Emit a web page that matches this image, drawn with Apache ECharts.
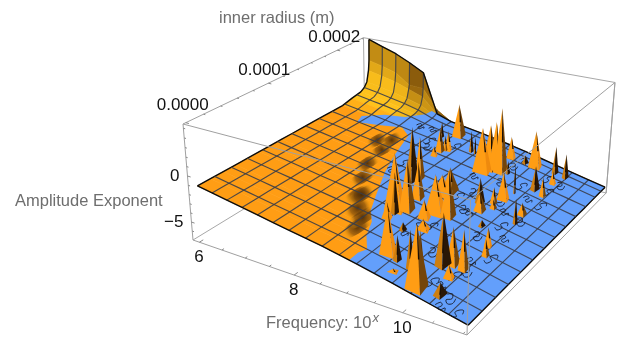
<!DOCTYPE html>
<html><head><meta charset="utf-8"><style>html,body{margin:0;background:#fff}#c{width:627px;height:352px}</style>
<script src="https://cdn.jsdelivr.net/npm/echarts@6/dist/echarts.min.js"></script></head><body><div id="c"></div><script>
// ---- data ----
const frequencies=[6,6.315,6.63,6.945,7.26,7.575,7.89,8.205,8.52,8.835,9.15,9.465,9.78,10.095,10.41,10.725,11.04];
const radii=[0,.151,.303,.454,.605,.756,.908,1.059,1.21,1.361,1.513,1.664,1.815,1.966,2.118,2.269,2.33,2.375,2.405,2.416,2.42]; // 1e-4 m
const meshRadii=[.2,.4,.6,.8,1,1.2,1.4,1.6,1.8,2,2.2,2.33];
const baseAmplitude=[-1,-1.28,-1.56,-1.84,-2.13,-2.41,-2.69,-2.97,-3.25,-3.58,-3.91,-4.29,-4.68,-5.09,-5.49,-5.89,-6.3];
const ridgeRows=[14,15,16,17,18,19,20];
const ridgeLift=[
 [.25,.25,.25,.22,.15,.05,0],
 [.45,.45,.45,.4,.3,.1,0],
 [.75,.75,.7,.65,.5,.15,0],
 [1.3,1.3,1.2,1.1,.9,.25,0],
 [2.6,2.5,2.4,2.1,1.8,.4,0],
 [3.8,3.7,3.5,2.6,2.8,.8,0],
 [6.4,6.1,5.8,5.3,4.7,.3,0]];
const ridgeTone=[
 [0,0,.02,.08,.2,.3],
 [.02,.02,.05,.12,.3,.45],
 [.04,.04,.08,.25,.3,.55],
 [.05,.05,.12,.4,.35,.6],
 [.2,.2,.3,.7,.45,.75],
 [.42,.36,.45,.8,.7,.85]];
const blueEdgeFreq=[9.02,9.01,9.06,8.85,8.70,8.50,8.32,8.00,7.80,7.59,7.34,6.95,6.59,6.52,6.84,7.18,7.42,7.49];
const blueEdgeRadius=[0,.12,.20,.34,.52,.65,.85,1.22,1.52,1.90,1.99,1.88,1.79,1.92,2.07,2.16,2.33,2.39];
const blotchFreq=[7.27,7.53,7.61,7.82,8.08,8.31,7.46,8.13,8.61,8.52];
const blotchRadius=[1.64,1.52,1.24,1.02,.77,.61,1.73,.79,.39,.53];
const spikeFreq=[8.07,8.28,8.42,8.38,8.75,8.32,8.84,8.33,9.38,9.65,9.83,9.27,9.35,9.46,9.21,10.19,9.59,10.39,8.55,8.50,10.31,10.17,9.97,9.14,10.35,9.09,8.86,9.91,9.68,9.85,9.92,8.76,8.92,9.79,8.83,9.29,10.35,8.81,9.24,9.50,10.39,10.03,9.18,9.40,10.36,9.34,10.45,9.54,10.19,10.09,9.78,10.37,9.63,10.31,10.09,10.08,10.42];
const spikeRadius=[2.10,2.23,1.92,1.90,2.05,1.86,2.04,1.75,2.22,2.24,2.25,1.92,1.95,1.94,1.83,2.29,1.96,2.29,1.34,1.26,2.11,1.91,1.72,1.35,1.87,1.26,1.07,1.57,1.38,1.46,1.39,.80,.86,1.28,.75,.99,1.49,.65,.86,1.02,1.33,1.10,.60,.72,.90,.27,.78,.25,.51,.45,.24,.51,.12,.35,.13,.09,.14];
const spikeTop=[-1.2,.6,-1,-1.5,-1.2,-.6,-1.7,-2.1,-1.8,-3.7,-.7,.8,1.1,2.8,.8,-2.2,-3.1,-2.8,1.2,2.6,-4,-2.6,-1.7,-1.4,-3.4,-1.8,.2,-1.9,-1.9,-3.1,-4,2.4,1.6,-2.8,.7,-.1,-4.2,-2,-2.2,.6,-2.9,-4.4,-3.2,-3.2,-3.5,.5,-3.9,-1.9,-1.5,.1,-.9,-1.5,-4.3,-4.1,.2,1.1,-4.3];
const spikeWidth=[2,6,3,2,2,4,1,3,4,3,6,7,6,6,8,3,2,3,4,5,3,4,1,7,3,7,5,5,4,3,3,8,6,5,3,8,4,4,5,6,2,3,3,5,3,6,3,3,5,6,3,4,4,4,4,8,5];
const spikeTone=[2,1,0,1,2,1,2,0,0,2,0,1,0,1,0,2,2,2,1,2,0,2,2,1,1,0,1,0,2,1,1,0,1,1,2,0,1,0,0,1,2,2,2,0,0,0,1,2,1,2,2,1,0,0,1,1,2];
const curlFreq=[9.22,9.44,9.82,10.32,10.17,10.57,10.55,10.79,10.44,10.35,10.54,10.11,10.45,10.25,10.43,9.67,10.34,9.27,8.03,8.06,8.07,7.56,8.43,9.55,9.60,10.18,10.44,10.15,9.94,9.63,9.20,9.31,9.45,7.79,7.97,9.92,10.21,10.36,9.58,10.10,10.46];
const curlRadius=[.57,.79,.52,.22,.21,.15,.02,.03,.50,.63,.77,.95,1.07,1.21,1.38,1.18,.39,.78,1.28,1.45,1.84,2.12,2.02,2.10,2.25,2.14,2.13,1.97,1.86,1.78,1.69,1.32,1.47,2.15,1.95,1.51,1.72,1.95,1.19,1.40,1.71];
const freqTicks=[6,8,10], freqMinor=[6.5,7,7.5,8.5,9,9.5,10.5,11];
const radiusTicks=[0,1,2], radiusMinor=[.2,.4,.6,.8,1.2,1.4,1.6,1.8,2.2,2.4];
const radiusLabels=['0.0000','0.0001','0.0002'];
const ampTicks=[0,-5], ampMinor=[-6,-4,-3,-2,-1,1,2,3,4,5];
// ---- view ----
const fMin=5.855,fMax=11.06,rMin=-.03,rMax=2.43,zMin=-7,zMax=5.44;
const O=[193,240],PF=[467,335],PR=[365,135],PZ=[183,124],wf=-.1657,wr=.232,wz=-.045;
function proj(f,r,z){const u=(f-fMin)/(fMax-fMin),v=(r-rMin)/(rMax-rMin),t=(z-zMin)/(zMax-zMin),w=1+wf*u+wr*v+wz*t;
 return [0,1].map(k=>(O[k]+u*((1+wf)*PF[k]-O[k])+v*((1+wr)*PR[k]-O[k])+t*((1+wz)*PZ[k]-O[k]))/w);}
const ORANGE='#ff9d14',BLUE='#639ffb',MESH='#3a3d48',SPREAD=1.3;
const lift=(j,i)=>{const k=ridgeRows.indexOf(j);return k<0||i>=7?0:ridgeLift[k][i];};
const gridZ=(i,j)=>baseAmplitude[i]+lift(j,i);
function lookup(arr,x){let i=0;while(i<arr.length-2&&arr[i+1]<x)i++;return [i,Math.max(0,Math.min(1,(x-arr[i])/(arr[i+1]-arr[i])))];}
function surfZ(f,r){const [i,a]=lookup(frequencies,f),[j,b]=lookup(radii,r);
 return (1-a)*(1-b)*gridZ(i,j)+a*(1-b)*gridZ(i+1,j)+(1-a)*b*gridZ(i,j+1)+a*b*gridZ(i+1,j+1);}
const pt=(api,f,r,z)=>api.coord(proj(f,r,z));
const mix=(c1,c2,t)=>{const h=c=>[1,3,5].map(i=>parseInt(c.substr(i,2),16));const a=h(c1),b=h(c2);return 'rgb('+a.map((v,k)=>Math.round(v+(b[k]-v)*t)).join(',')+')';};
const noFx={silent:true,animation:false,coordinateSystem:'cartesian2d',clip:false};
// ---- box ----
const cf=[fMin,fMax],cr=[rMin,rMax],cz=[zMin,zMax];
const backEdges=[[0,1,0,1,1,0],[1,1,0,1,1,1],[0,1,0,0,1,1],[0,0,0,0,1,0],[0,1,1,1,1,1]];
const frontEdges=[[0,0,0,1,0,0],[1,0,0,1,0,1],[0,0,1,1,0,1],[1,0,1,1,1,1],[0,0,0,0,0,1],[0,0,1,0,1,1],[1,0,0,1,1,0],[1,1,0,1,1,1]];
const boxSeries=(edges,z,col)=>({...noFx,type:'custom',z,data:edges,renderItem:(p,api)=>{const e=edges[p.dataIndex];
 const a=pt(api,cf[e[0]],cr[e[1]],cz[e[2]]),b=pt(api,cf[e[3]],cr[e[4]],cz[e[5]]);
 return {type:'line',shape:{x1:a[0],y1:a[1],x2:b[0],y2:b[1]},style:{stroke:col,lineWidth:1}};}});
// ---- surface cells, back to front ----
const cells=[];for(let j=radii.length-2;j>=0;j--)for(let i=0;i<frequencies.length-1;i++)cells.push([i,j]);
const cellSeries={...noFx,type:'custom',z:3,data:cells,renderItem:(p,api)=>{const [i,j]=cells[p.dataIndex];
 const q=[[i,j],[i+1,j],[i+1,j+1],[i,j+1]].map(c=>pt(api,frequencies[c[0]],radii[c[1]],gridZ(c[0],c[1])));
 const k=j-14;let col=ORANGE;
 if(k>=0&&i<6)col=ridgeTone[k][i]<.03?'#ffc21c':mix('#ffc21c','#6e4208',ridgeTone[k][i]);
 else if(j===13&&i<5)col='#ffb018';else if(j===14)col=i<6?col:'#fda815';
 return {type:'polygon',shape:{points:q},style:{fill:col,stroke:col,lineWidth:.6}};}};
// ---- dark patches along the orange / blue border ----
const blotches=blotchFreq.map((f,i)=>[f,blotchRadius[i]]);
const blotchSeries={...noFx,type:'custom',z:4,data:blotches,renderItem:(p,api)=>{const [f,r]=blotches[p.dataIndex];
 const q=[];for(let a=0;a<20;a++){const c=Math.cos(a/20*6.2832),s=Math.sin(a/20*6.2832);const ff=f+.13*c,rr=r+.24*s;q.push(pt(api,ff,rr,surfZ(ff,rr)));}
 return {type:'polygon',shape:{points:q},style:{fill:{type:'radial',x:.5,y:.5,r:.62,colorStops:[{offset:0,color:'rgba(70,40,8,.9)'},{offset:.5,color:'rgba(120,72,10,.65)'},{offset:.8,color:'rgba(225,150,18,.3)'},{offset:1,color:'rgba(255,170,20,0)'}]}}};}};
// ---- blue region ----
const blueSeries={...noFx,type:'custom',z:5,data:[0],renderItem:(p,api)=>{
 const q=blueEdgeFreq.map((f,i)=>[f,blueEdgeRadius[i]]);
 frequencies.filter(f=>f>7.6).forEach(f=>q.push([f,2.42]));
 frequencies.slice().reverse().filter(f=>f>9.02).forEach(f=>q.push([f,0]));
 return {type:'polygon',shape:{points:q.map(c=>pt(api,c[0],c[1],surfZ(c[0],c[1])))},style:{fill:BLUE}};}};
// ---- mesh ----
const fLines=frequencies.map((f,i)=>({type:'f',i})),rLines=[0].concat(meshRadii,[2.42]).map(r=>({type:'r',r}));
const allLines=fLines.concat(rLines);
const meshSeries={...noFx,type:'custom',z:6,data:allLines.map((l,i)=>i),renderItem:(p,api)=>{const l=allLines[p.dataIndex];
 const q=l.type==='f'?radii.map((r,j)=>pt(api,frequencies[l.i],r,gridZ(l.i,j))):frequencies.map(f=>pt(api,f,l.r,surfZ(f,l.r)));
 const edge=l.type==='f'?(l.i===0||l.i===16):(l.r===0||l.r===2.42);
 return {type:'polyline',shape:{points:q},style:{fill:'none',stroke:edge?'#0c0c0c':MESH,lineWidth:edge?1.4:1.15,opacity:edge?1:.9,lineJoin:'round'}};}};
// ---- small curls of the mesh in the noisy part ----
const curlShapes=[[[-.07,0],[-.04,.05],[.01,.03],[-.01,-.02],[.04,-.04],[.07,.02],[.1,-.01]],[[-.05,-.05],[.01,-.07],[.04,-.01],[-.02,.02],[0,.06],[.05,.08],[.08,.04]],[[-.08,.03],[-.03,.06],[.02,.01],[-.03,-.03],[.03,-.06],[.08,-.03],[.06,.03]]];
const curlSeries={...noFx,type:'custom',z:7,data:curlFreq.map((f,i)=>[f,curlRadius[i]]),renderItem:(p,api)=>{const i=p.dataIndex,f=curlFreq[i],r=curlRadius[i];
 const q=curlShapes[i%3].map(d=>{const ff=f+d[0],rr=Math.max(0,r+d[1]);return pt(api,ff,rr,surfZ(ff,rr));});
 return {type:'polyline',shape:{points:q,smooth:.35},style:{fill:'none',stroke:'#10131c',lineWidth:.85}};}};
// ---- spikes ----
const order=spikeFreq.map((f,i)=>i).sort((a,b)=>proj(spikeFreq[a],spikeRadius[a],surfZ(spikeFreq[a],spikeRadius[a]))[1]-proj(spikeFreq[b],spikeRadius[b],surfZ(spikeFreq[b],spikeRadius[b]))[1]);
const spikeSeries={...noFx,type:'custom',z:8,data:order,renderItem:(p,api)=>{const i=order[p.dataIndex],f=spikeFreq[i],r=spikeRadius[i],d=SPREAD*spikeWidth[i]/100,e=d*.77,tone=spikeTone[i];
 const at=(ff,rr)=>pt(api,ff,rr,surfZ(ff,Math.max(0,rr)));
 const L=at(f-d,r-e),B=at(f+d,r-e),R=at(f+d,r+e),A=pt(api,f,r,spikeTop[i]);
 const C=tone===0?[L[0]*.2+R[0]*.8,B[1]]:tone===1?[L[0]*.35+R[0]*.65,B[1]]:[L[0]*.55+R[0]*.45,B[1]];
 const lc=tone===2?'#cf7f10':ORANGE,rc=tone===0?'#ee8a0e':tone===1?'#74450a':'#2a1706';
 const ch=[{type:'polygon',shape:{points:[A,L,C]},style:{fill:lc}},{type:'polygon',shape:{points:[A,C,R]},style:{fill:rc}}];
 const k=tone===2?.7:.5;
 ch.push({type:'polygon',shape:{points:[[A[0],A[1]-1],[A[0]+(C[0]-A[0])*k+1,A[1]+(C[1]-A[1])*k],[A[0]+(C[0]-A[0])*k-.5,A[1]+(C[1]-A[1])*k]]},style:{fill:'#1a0f05'}});
 return {type:'group',children:ch};}};
// ---- ticks and labels ----
const ticks=[];
freqTicks.forEach(v=>ticks.push([v,rMin,zMin,0,.045,0]));freqMinor.forEach(v=>ticks.push([v,rMin,zMin,0,.025,0]));
radiusTicks.forEach(v=>ticks.push([fMin,v,zMax,.07,0,0]));radiusMinor.forEach(v=>ticks.push([fMin,v,zMax,.04,0,0]));
ampTicks.forEach(v=>ticks.push([fMin,rMin,v,.07,0,0]));ampMinor.forEach(v=>ticks.push([fMin,rMin,v,.04,0,0]));
const tickSeries={...noFx,type:'custom',z:9,data:ticks,renderItem:(p,api)=>{const t=ticks[p.dataIndex],a=pt(api,t[0],t[1],t[2]),b=pt(api,t[0]+t[3],t[1]+t[4],t[2]+t[5]);
 return {type:'line',shape:{x1:a[0],y1:a[1],x2:b[0],y2:b[1]},style:{stroke:'#8a8a8a',lineWidth:1}};}};
const FONT='"Liberation Sans",Arial,sans-serif';
const labels=[];
freqTicks.forEach(v=>labels.push({t:String(v),c:[v,rMin,zMin],dx:-.5,dy:15.5,al:'center'}));
radiusTicks.forEach((v,i)=>labels.push({t:radiusLabels[i],c:[fMin,v,zMax],dx:[-3,-4,-3][i],dy:[-17,-13,-13][i],al:'center'}));
ampTicks.forEach(v=>labels.push({t:v<0?'\u2212'+(-v):String(v),c:[fMin,rMin,v],dx:-8,dy:.5,al:'right'}));
const labelSeries={...noFx,type:'custom',z:10,data:labels.map((l,i)=>i),renderItem:(p,api)=>{const l=labels[p.dataIndex],a=pt(api,l.c[0],l.c[1],l.c[2]);
 return {type:'text',style:{text:l.t,x:a[0]+l.dx,y:a[1]+l.dy,align:l.al,verticalAlign:'middle',font:'17px '+FONT,fill:'#111'}};}};
const chart=echarts.init(document.getElementById('c'),null,{renderer:'canvas'});
chart.setOption({animation:false,backgroundColor:'#fff',
 grid:{left:0,right:0,top:0,bottom:0},
 xAxis:{type:'value',min:0,max:627,show:false},yAxis:{type:'value',min:0,max:352,inverse:true,show:false},
 graphic:[
  {type:'text',left:219,top:10,style:{text:'inner radius (m)',font:'16.5px '+FONT,fill:'#6e6e6e'}},
  {type:'text',left:15,top:193,style:{text:'Amplitude Exponent',font:'16.5px '+FONT,fill:'#6e6e6e'}},
  {type:'text',left:266,top:312,style:{text:'Frequency: 10{s|x}',font:'16.5px '+FONT,fill:'#6e6e6e',rich:{s:{font:'italic 13px '+FONT,fill:'#6e6e6e',verticalAlign:'top',padding:[0,0,10,1]}}}}
 ],
 series:[boxSeries(backEdges,1,'#a8a8a8'),cellSeries,blotchSeries,blueSeries,meshSeries,curlSeries,spikeSeries,boxSeries(frontEdges,9,'#a0a0a0'),tickSeries,labelSeries]});
</script></body></html>
